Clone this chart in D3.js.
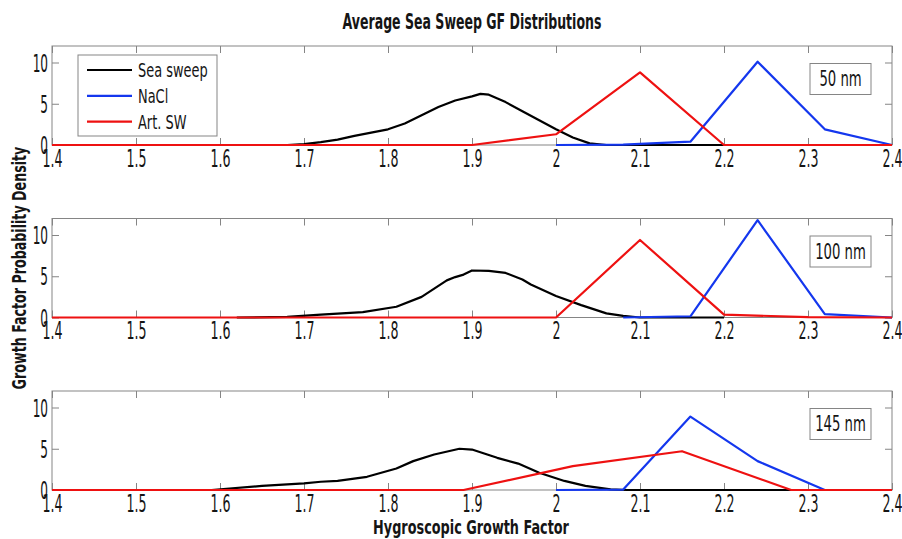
<!DOCTYPE html>
<html>
<head>
<meta charset="utf-8">
<script src="https://cdn.jsdelivr.net/npm/d3@7"></script>
<style>
  body { margin: 0; background: #fff; }
  svg { display: block; }
  text { font-family: "Liberation Sans Narrow", "DejaVu Sans Condensed", "Arial Narrow", sans-serif; fill: #151515; }
</style>
</head>
<body>
<svg id="chart" width="902" height="539"></svg>
<script>
// ---- axis ticks and labels ----
const gfTicks = [1.4, 1.5, 1.6, 1.7, 1.8, 1.9, 2.0, 2.1, 2.2, 2.3, 2.4];
const densityTicks = [0, 5, 10];
const seriesNames = ["Sea sweep", "NaCl", "Art. SW"];
const sizeLabels = ["50 nm", "100 nm", "145 nm"];
const chartTitle = "Average Sea Sweep GF Distributions";
const xTitle = "Hygroscopic Growth Factor";
const yTitle = "Growth Factor Probability Density";

// ---- 50 nm ----
const gfSea50  = [1.68, 1.70, 1.72, 1.74, 1.76, 1.78, 1.80, 1.82, 1.84, 1.86, 1.88, 1.90, 1.91, 1.92, 1.94, 1.96, 1.98, 2.00, 2.02, 2.04, 2.06, 2.10, 2.20];
const pdfSea50 = [0, 0.1, 0.35, 0.65, 1.1, 1.5, 1.9, 2.6, 3.6, 4.6, 5.4, 5.9, 6.2, 6.1, 5.2, 4.1, 3.0, 1.9, 0.9, 0.2, 0, 0, 0];
const gfNaCl50  = [2.00, 2.08, 2.16, 2.24, 2.32, 2.40];
const pdfNaCl50 = [0, 0.05, 0.4, 10.1, 1.9, 0];
const gfArt50  = [1.4, 1.5, 1.6, 1.7, 1.8, 1.9, 2.0, 2.1, 2.2, 2.3, 2.4];
const pdfArt50 = [0, 0, 0, 0, 0, 0, 1.3, 8.8, 0, 0, 0];

// ---- 100 nm ----
const gfSea100  = [1.62, 1.68, 1.72, 1.77, 1.81, 1.84, 1.87, 1.88, 1.89, 1.90, 1.92, 1.94, 1.96, 1.97, 2.00, 2.03, 2.06, 2.08, 2.10, 2.20];
const pdfSea100 = [0, 0.07, 0.35, 0.65, 1.3, 2.5, 4.5, 4.9, 5.2, 5.7, 5.65, 5.4, 4.6, 4.0, 2.6, 1.5, 0.5, 0.2, 0, 0];
const gfNaCl100  = [2.08, 2.16, 2.24, 2.32, 2.40];
const pdfNaCl100 = [0, 0.15, 11.8, 0.4, 0];
const gfArt100  = [1.4, 1.5, 1.6, 1.7, 1.8, 1.9, 2.0, 2.1, 2.2, 2.3, 2.4];
const pdfArt100 = [0, 0, 0, 0, 0, 0, 0, 9.4, 0.35, 0.05, 0];

// ---- 145 nm ----
const gfSea145  = [1.59, 1.65, 1.70, 1.72, 1.74, 1.775, 1.81, 1.83, 1.855, 1.885, 1.90, 1.93, 1.955, 1.98, 2.01, 2.035, 2.065, 2.085, 2.28];
const pdfSea145 = [0, 0.5, 0.8, 1.0, 1.1, 1.6, 2.6, 3.5, 4.3, 5.0, 4.9, 3.9, 3.2, 2.1, 1.1, 0.5, 0.08, 0, 0];
const gfNaCl145  = [2.00, 2.08, 2.16, 2.24, 2.32, 2.40];
const pdfNaCl145 = [0, 0.05, 8.9, 3.5, 0, 0];
const gfArt145  = [1.4, 1.5, 1.63, 1.76, 1.89, 2.02, 2.15, 2.28, 2.4];
const pdfArt145 = [0, 0, 0, 0, 0, 2.9, 4.7, 0, 0];

const seriesColors = ["#000000", "#1437ee", "#ee1111"];

const zip = (xs, ys) => xs.map((v, i) => [v, ys[i]]);
const panels = [
  { label: sizeLabels[0], series: [zip(gfSea50, pdfSea50), zip(gfNaCl50, pdfNaCl50), zip(gfArt50, pdfArt50)] },
  { label: sizeLabels[1], series: [zip(gfSea100, pdfSea100), zip(gfNaCl100, pdfNaCl100), zip(gfArt100, pdfArt100)] },
  { label: sizeLabels[2], series: [zip(gfSea145, pdfSea145), zip(gfNaCl145, pdfNaCl145), zip(gfArt145, pdfArt145)] }
];

// ---- layout ----
const left = 52, right = 892, panelH = 99;
const panelTops = [46, 218.5, 391];
const frameColor = "#858585";
const squeeze = 0.56;   // narrow numeral look for the tick labels

const svg = d3.select("#chart");
const x = d3.scaleLinear().domain([1.4, 2.4]).range([left, right]);
const fmtX = d => String(+d.toFixed(1));

// text helper: squeezes a label horizontally (to a given width or by a factor)
function fittedText(parent, tx, ty, str, opts) {
  const g = parent.append("g").attr("transform", `translate(${tx},${ty})` + (opts.rotate ? ` rotate(${opts.rotate})` : ""));
  const t = g.append("text")
    .attr("text-anchor", opts.anchor || "middle")
    .style("font-size", opts.size + "px")
    .style("font-weight", opts.weight || "normal")
    .text(str);
  if (opts.width) {
    const len = t.node().getComputedTextLength();
    t.attr("transform", `scale(${opts.width / len},1)`);
  } else if (opts.k) {
    t.attr("transform", `scale(${opts.k},1)`);
  }
  return t;
}

const line = (y) => d3.line().x(d => x(d[0])).y(d => y(d[1]));

panels.forEach((p, i) => {
  const top = panelTops[i];
  const y = d3.scaleLinear().domain([0, 12]).range([top + panelH, top]);
  const g = svg.append("g");

  g.append("rect")
    .attr("x", left).attr("y", top)
    .attr("width", right - left).attr("height", panelH)
    .attr("fill", "#fff").attr("stroke", frameColor).attr("stroke-width", 1);

  const styleAxis = sel => {
    sel.select(".domain").remove();
    sel.selectAll(".tick line").attr("stroke", frameColor);
  };

  const bx = g.append("g").attr("transform", `translate(0,${top + panelH})`)
    .call(d3.axisBottom(x).tickValues(gfTicks).tickSize(-7).tickPadding(4).tickFormat(fmtX));
  styleAxis(bx);
  bx.selectAll("text").attr("fill", null).style("font-size", "25px").attr("transform", `scale(${squeeze},1)`);

  const tx = g.append("g").attr("transform", `translate(0,${top})`)
    .call(d3.axisTop(x).tickValues(gfTicks).tickSize(-7).tickFormat(""));
  styleAxis(tx);

  const ly = g.append("g").attr("transform", `translate(${left},0)`)
    .call(d3.axisLeft(y).tickValues(densityTicks).tickSize(-7).tickPadding(4));
  styleAxis(ly);
  ly.selectAll("text").attr("fill", null).style("font-size", "24px")
    .attr("x", -4 / squeeze).attr("dy", "0.36em").attr("transform", `scale(${squeeze},1)`);

  const ry = g.append("g").attr("transform", `translate(${right},0)`)
    .call(d3.axisRight(y).tickValues(densityTicks).tickSize(-7).tickFormat(""));
  styleAxis(ry);

  // curves: sea sweep, NaCl, artificial seawater
  p.series.forEach((s, k) => {
    g.append("path").datum(s)
      .attr("d", line(y))
      .attr("fill", "none")
      .attr("stroke", seriesColors[k])
      .attr("stroke-width", 2.2)
      .attr("stroke-linejoin", "round");
  });

  // particle size tag
  g.append("rect")
    .attr("x", 810).attr("y", top + 17.5).attr("width", 61).attr("height", 31)
    .attr("fill", "#fff").attr("stroke", frameColor).attr("stroke-width", 1);
  fittedText(g, 840.5, top + 40, p.label, { size: 21, k: 0.7 });

  // legend in the first panel
  if (i === 0) {
    g.append("rect")
      .attr("x", 78).attr("y", 55).attr("width", 139).attr("height", 81)
      .attr("fill", "#fff").attr("stroke", frameColor).attr("stroke-width", 1);
    seriesNames.forEach((name, k) => {
      const ry0 = 70 + k * 25.8;
      g.append("line").attr("x1", 87).attr("x2", 132).attr("y1", ry0).attr("y2", ry0)
        .attr("stroke", seriesColors[k]).attr("stroke-width", 2.2);
      fittedText(g, 138, ry0 + 7, name, { size: 20, anchor: "start", k: 0.72 });
    });
  }
});

// titles
fittedText(svg, 472, 29, chartTitle, { size: 21, weight: "bold", width: 259 });
fittedText(svg, 471, 534, xTitle, { size: 20, weight: "bold", width: 196 });
fittedText(svg, 26, 268, yTitle, { size: 20, weight: "bold", width: 243, rotate: -90 });
</script>
</body>
</html>
